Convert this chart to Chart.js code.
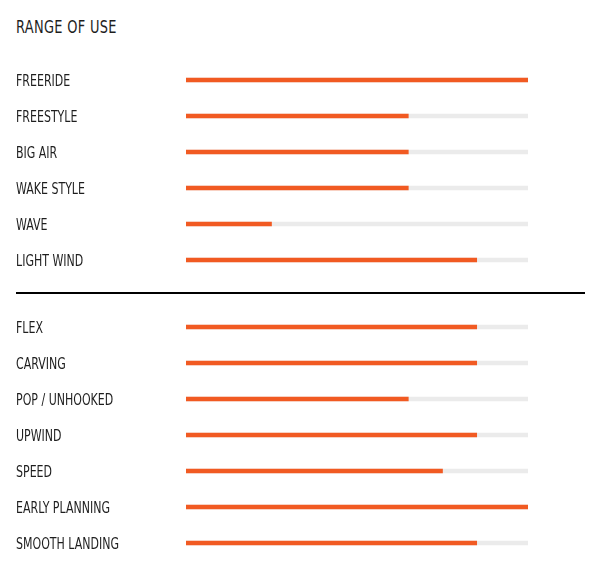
<!DOCTYPE html>
<html>
<head>
<meta charset="utf-8">
<script src="https://cdn.jsdelivr.net/npm/chart.js@4/dist/chart.umd.min.js"></script>
<style>
  html, body { margin: 0; padding: 0; background: #fff; }
  body { width: 603px; height: 581px; position: relative; overflow: hidden; }
  #title { position: absolute; left: 16px; top: 16px; font-family: "DejaVu Sans Condensed", "DejaVu Sans", sans-serif; font-size: 18px; line-height: 22px; color: #1e1e1e; letter-spacing: 0.4px; transform-origin: left top; transform: scaleX(0.8); white-space: nowrap; }
  #sep { position: absolute; left: 16px; top: 292px; width: 569px; height: 2px; background: #000; }
  .box { position: absolute; left: 0; width: 603px; }
  #box1 { top: 0; height: 290px; }
  #box2 { top: 294px; height: 287px; }
</style>
</head>
<body>
<div id="title">RANGE OF USE</div>
<div id="sep"></div>
<div class="box" id="box1"><canvas id="c1"></canvas></div>
<div class="box" id="box2"><canvas id="c2"></canvas></div>
<script>
const useCategories = ["FREERIDE", "FREESTYLE", "BIG AIR", "WAKE STYLE", "WAVE", "LIGHT WIND"];
const useValues = [100, 65, 65, 65, 25, 85];
const useTrack = [100, 100, 100, 100, 100, 100];

const feelCategories = ["FLEX", "CARVING", "POP / UNHOOKED", "UPWIND", "SPEED", "EARLY PLANNING", "SMOOTH LANDING"];
const feelValues = [85, 85, 65, 85, 75, 100, 85];
const feelTrack = [100, 100, 100, 100, 100, 100, 100];

const scaleMax = 100;

// Narrow the tick label glyphs horizontally to mimic a condensed display face
const condenseLabels = {
  id: 'condenseLabels',
  beforeDraw(chart) {
    const s = chart.scales.y;
    if (!s || s._condensed) return;
    const orig = s.drawLabels;
    s.drawLabels = function(area) {
      const ctx = this.ctx;
      ctx.save();
      ctx.translate(16, 1.5);
      ctx.scale(0.765, 1);
      ctx.translate(-16, 0);
      orig.call(this, area);
      ctx.restore();
    };
    s._condensed = true;
  }
};

function makeChart(id, labels, values, track, padTop, padBottom) {
  return new Chart(document.getElementById(id), {
    type: 'bar',
    data: {
      labels: labels,
      datasets: [
        { data: values, backgroundColor: '#F15A22', barThickness: 4, grouped: false, order: 0 },
        { data: track, backgroundColor: '#EBEBEB', barThickness: 4, grouped: false, order: 1 }
      ]
    },
    options: {
      indexAxis: 'y',
      responsive: true,
      maintainAspectRatio: false,
      animation: false,
      layout: { padding: { left: 16, right: 75, top: padTop, bottom: padBottom } },
      plugins: { legend: { display: false }, tooltip: { enabled: false } },
      scales: {
        x: { display: false, min: 0, max: scaleMax },
        y: {
          grid: { display: false, drawTicks: false },
          border: { display: false },
          ticks: {
            crossAlign: 'far',
            padding: 0,
            color: '#1e1e1e',
            font: { family: '"DejaVu Sans Condensed", "DejaVu Sans", sans-serif', size: 16 }
          },
          afterFit: function(s) { s.width = 170; }
        }
      }
    },
    plugins: [condenseLabels]
  });
}

makeChart('c1', useCategories, useValues, useTrack, 62, 12);
makeChart('c2', feelCategories, feelValues, feelTrack, 15, 20);
</script>
</body>
</html>
